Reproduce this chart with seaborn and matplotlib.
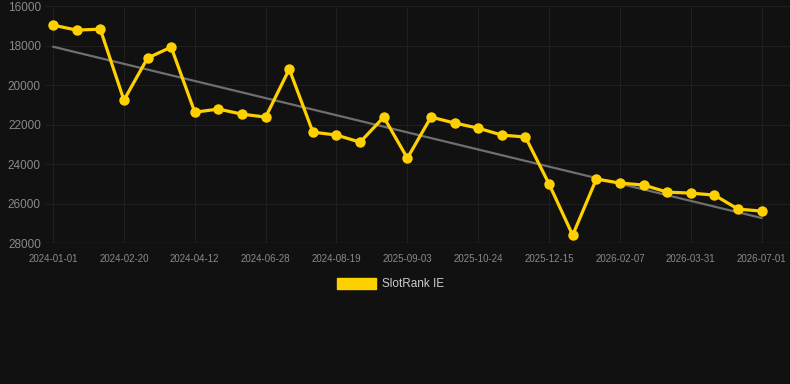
import numpy as np
import pandas as pd
import matplotlib
matplotlib.use("Agg")
import matplotlib.pyplot as plt
from matplotlib.patches import Patch
import seaborn as sns

# data (rank, lower is better -> inverted axis)
dates = ['2024-01-01', '', '', '2024-02-20', '', '', '2024-04-12', '', '', '2024-06-28', '', '',
         '2024-08-19', '', '', '2025-09-03', '', '', '2025-10-24', '', '', '2025-12-15', '', '',
         '2026-02-07', '', '', '2026-03-31', '', '', '2026-07-01']
rank = [16960, 17215, 17165, 20760, 18630, 18075, 21370, 21215, 21470, 21620,
        19190, 22380, 22530, 22890, 21620, 23700, 21620, 21920, 22180, 22530,
        22630, 25010, 27600, 24760, 24960, 25060, 25420, 25470, 25570, 26280, 26380]
tick_labels = [d for d in dates if d]

df = pd.DataFrame({'i': np.arange(len(rank)), 'rank': rank})

sns.set_theme(style='dark')
plt.rcParams['font.family'] = ['Liberation Sans', 'DejaVu Sans']

bg = '#111111'
fig = plt.figure(figsize=(7.9, 3.84), dpi=100, facecolor=bg)
ax = fig.add_axes([0.057, 0.367, 0.943, 0.617])
ax.set_facecolor(bg)

# trend line
sns.regplot(data=df, x='i', y='rank', scatter=False, ci=None, ax=ax,
            line_kws={'color': '#6f6f6f', 'linewidth': 1.6, 'zorder': 2})

sns.lineplot(data=df, x='i', y='rank', ax=ax, color='#FFD000', linewidth=2.3,
             marker='o', markersize=7.5, markeredgewidth=0, zorder=3)

ax.set_ylim(28000, 16000)
ax.set_xlim(-0.34, 31.2)
ax.set_yticks([16000, 18000, 20000, 22000, 24000, 26000, 28000])
ax.set_xticks([i for i, d in enumerate(dates) if d])
ax.set_xticklabels(tick_labels)
ax.set_xlabel('')
ax.set_ylabel('')

ax.grid(True, color='#1f1f1f', linewidth=0.8)
for s in ax.spines.values():
    s.set_visible(False)
ax.axhline(28000, color='#2c2c2c', linewidth=1, zorder=1)
ax.tick_params(axis='y', colors='#8a8a8a', labelsize=8.5, length=0, pad=3)
ax.tick_params(axis='x', colors='#8a8a8a', labelsize=7, length=3, width=0.8, pad=5)
for t in ax.get_xticklabels():
    t.set_color('#8a8a8a')

fig.legend(handles=[Patch(facecolor='#FFD000', edgecolor='#FFD000', label='SlotRank IE')],
           loc='center', bbox_to_anchor=(0.494, 0.26), frameon=False,
           labelcolor='#cccccc', fontsize=8.5, handlelength=3.3, handleheight=1.0,
           handletextpad=0.5)

fig.savefig('out.png', dpi=100, facecolor=bg)
